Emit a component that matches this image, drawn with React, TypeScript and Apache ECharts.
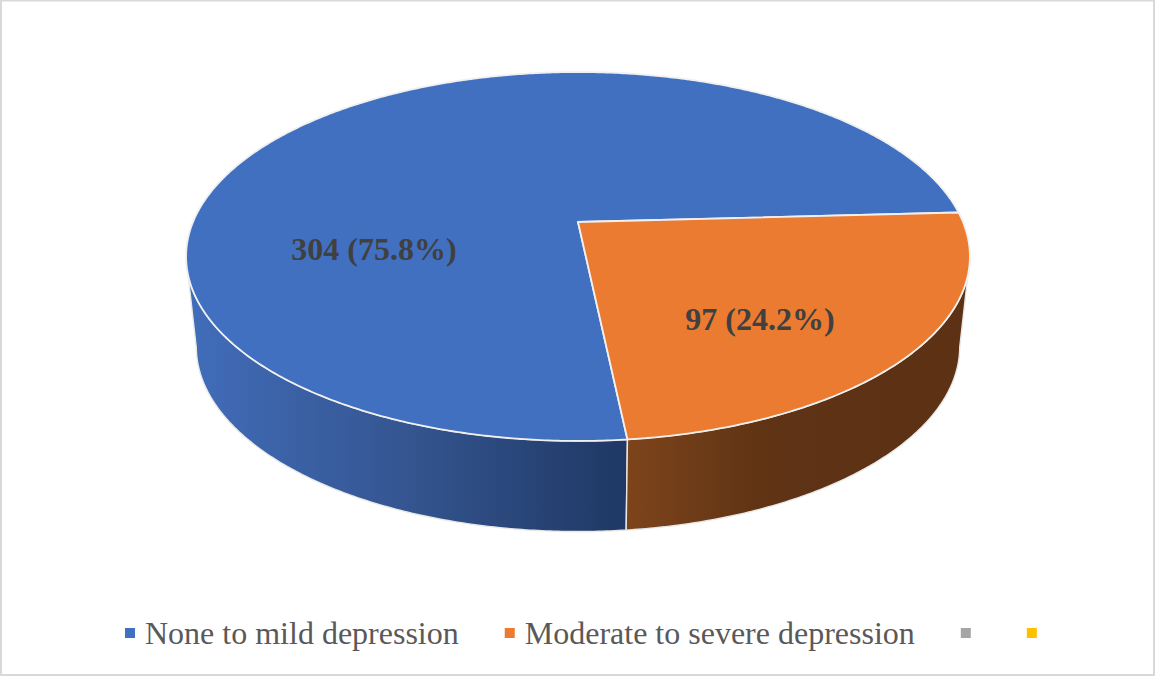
import React, { useEffect, useRef } from "react";
import * as echarts from "echarts";

// Survey counts per depression group, plus the two unnamed legend categories.
const sliceNames = ["None to mild depression", "Moderate to severe depression"];
const sliceValues = [304, 97];
const blankLegendNames = [" ", "  "];
const blankLegendColors = ["#A5A5A5", "#FFC000"];

const topColors = ["#4270C0", "#EB7B30"];
const FONT = '"Liberation Serif", "Times New Roman", serif';

// Perspective disc: apex position plus projective parameters.
const FIRST_SLICE_DEG = 84;
const top = { cx: 578, cy: 222, a: 385, b: 178, k: -0.187 };
const base = { cx: 578, cy: 312, a: 375, b: 178.5, k: -0.187 };
const WALL_FROM = 11;
const WALL_TO = 169;

type Disc = typeof top;

const project = (d: Disc, deg: number): number[] => {
  const t = (deg * Math.PI) / 180;
  const X = Math.cos(t);
  const Y = Math.sin(t);
  const w = 1 + d.k * Y;
  return [d.cx + (d.a * X) / w, d.cy + (d.b * Y) / w];
};

const arc = (d: Disc, from: number, to: number): number[][] => {
  const steps = Math.max(2, Math.ceil(Math.abs(to - from) * 2));
  const pts: number[][] = [];
  for (let i = 0; i <= steps; i++) pts.push(project(d, from + ((to - from) * i) / steps));
  return pts;
};

const total = sliceValues.reduce((s, v) => s + v, 0);
const spans = sliceValues.map((_, i) => {
  const before = sliceValues.slice(0, i).reduce((s, v) => s + v, 0);
  return [
    FIRST_SLICE_DEG + (before / total) * 360,
    FIRST_SLICE_DEG + ((before + sliceValues[i]) / total) * 360,
  ];
});

// Part of a slice's angular span that lies on the visible front of the rim.
const frontSpan = (from: number, to: number): number[] | null => {
  for (const shift of [0, 360, -360]) {
    const a = Math.max(from, WALL_FROM + shift);
    const b = Math.min(to, WALL_TO + shift);
    if (b > a) return [a, b];
  }
  return null;
};

const wallFills = [
  {
    type: "linear", x: 186, y: 0, x2: 627, y2: 0, global: true,
    colorStops: [
      { offset: 0, color: "#416DBA" },
      { offset: 0.5, color: "#345590" },
      { offset: 1, color: "#1F3864" },
    ],
  },
  {
    type: "linear", x: 627, y: 0, x2: 970, y2: 0, global: true,
    colorStops: [
      { offset: 0, color: "#7D441B" },
      { offset: 0.4, color: "#5F3314" },
      { offset: 1, color: "#5C3114" },
    ],
  },
];

const labelAnchors = [
  [374, 249],
  [760, 319],
];

const sliceSeries = (i: number) => ({
  type: "custom",
  name: sliceNames[i],
  coordinateSystem: "none",
  silent: true,
  itemStyle: { color: topColors[i] },
  data: [[sliceValues[i]]],
  renderItem: (_params: unknown, api: any) => {
    const value = api.value(0) as number;
    const [from, to] = spans[i];
    const children: any[] = [];
    const front = frontSpan(from, to);
    if (front) {
      const points = [...arc(top, front[0], front[1]), ...arc(base, front[1], front[0])];
      children.push({
        type: "polygon",
        z2: 1,
        shape: { points },
        style: { fill: wallFills[i], stroke: "#E8E8E8", lineWidth: 1.4 },
      });
    }
    children.push({
      type: "polygon",
      z2: 2,
      shape: { points: [[top.cx, top.cy], ...arc(top, from, to)] },
      style: { fill: topColors[i], stroke: "#F0F0F0", lineWidth: 1.8, lineJoin: "round" },
    });
    children.push({
      type: "text",
      z2: 3,
      x: labelAnchors[i][0],
      y: labelAnchors[i][1],
      style: {
        text: `${value} (${((value / total) * 100).toFixed(1)}%)`,
        font: `bold 32px ${FONT}`,
        fill: "#404040",
        align: "center",
        verticalAlign: "middle",
      },
    });
    return { type: "group", children };
  },
});

const blankSeries = (i: number) => ({
  type: "custom",
  name: blankLegendNames[i],
  coordinateSystem: "none",
  silent: true,
  itemStyle: { color: blankLegendColors[i] },
  data: [] as number[][],
  renderItem: () => ({ type: "group", children: [] }),
});

export default function App() {
  const ref = useRef<HTMLDivElement>(null);

  useEffect(() => {
    const chart = echarts.init(ref.current!, undefined, { renderer: "svg" });
    const blankEntryStyle = { fontSize: 8, padding: [0, 0, 0, 3] };
    chart.setOption({
      animation: false,
      backgroundColor: "#FFFFFF",
      legend: {
        left: 120,
        top: 612,
        icon: "rect",
        itemWidth: 10,
        itemHeight: 10,
        itemGap: 46,
        selectedMode: false,
        data: [
          ...sliceNames,
          ...blankLegendNames.map((name) => ({ name, textStyle: blankEntryStyle })),
        ],
        textStyle: {
          fontFamily: FONT,
          fontSize: 32,
          color: "#595959",
          padding: [0, 0, 0, 5],
        },
      },
      graphic: [
        {
          type: "rect",
          silent: true,
          shape: { x: 1, y: 0.5, width: 1153, height: 674.5 },
          style: { fill: "none", stroke: "#D9D9D9", lineWidth: 2 },
        },
      ],
      series: [sliceSeries(0), sliceSeries(1), blankSeries(0), blankSeries(1)],
    });
    return () => chart.dispose();
  }, []);

  return (
    <div
      ref={ref}
      style={{ position: "fixed", left: 0, top: 0, width: 1155, height: 676 }}
    />
  );
}
